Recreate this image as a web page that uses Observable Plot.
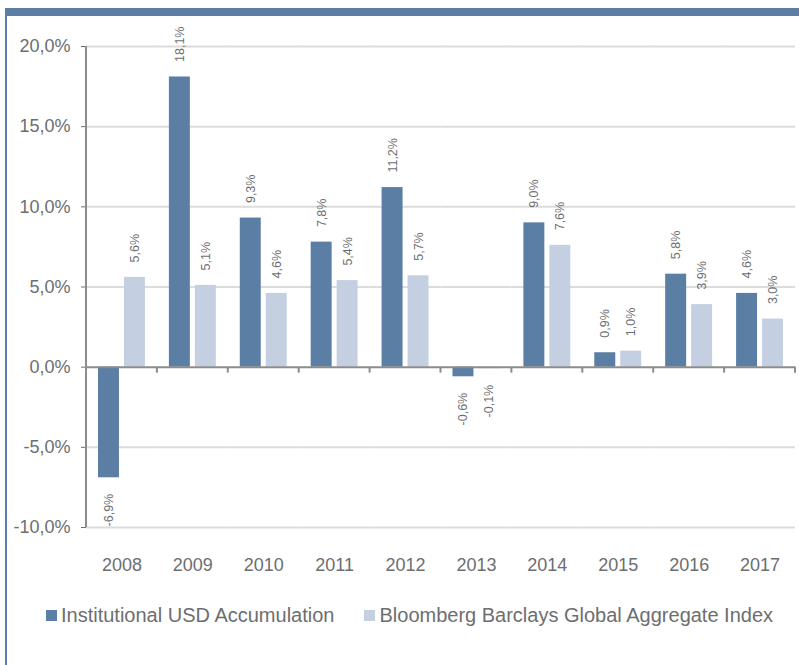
<!DOCTYPE html>
<html><head><meta charset="utf-8">
<script src="https://cdn.jsdelivr.net/npm/d3@7"></script>
<script src="https://cdn.jsdelivr.net/npm/@observablehq/plot@0.6"></script>
<style>
body{margin:0;background:#fff;font-family:"Liberation Sans",Arial,sans-serif;}
#wrap{position:relative;width:799px;height:665px;overflow:hidden;background:#fff;}
#topbar{position:absolute;left:5px;top:8px;width:794px;height:8px;background:#5b7fa4;}
#leftbar{position:absolute;left:5px;top:8px;width:2px;height:657px;background:#5b7fa4;}
#chart{position:absolute;left:0;top:0;}
#legend{position:absolute;top:604px;left:46px;display:flex;align-items:center;font-size:20px;line-height:22px;color:#6d6e71;white-space:nowrap;}
.item{display:flex;align-items:center;margin-right:30px;}
.sw{width:11px;height:11px;margin-right:4px;}
</style></head>
<body>
<div id="wrap">
  <div id="topbar"></div>
  <div id="leftbar"></div>
  <div id="chart"></div>
  <div id="legend"></div>
</div>
<script>
const years = ["2008","2009","2010","2011","2012","2013","2014","2015","2016","2017"];
const fundReturns = [-6.9, 18.1, 9.3, 7.8, 11.2, -0.6, 9.0, 0.9, 5.8, 4.6];
const indexReturns = [5.6, 5.1, 4.6, 5.4, 5.7, -0.1, 7.6, 1.0, 3.9, 3.0];
const seriesNames = ["Institutional USD Accumulation", "Bloomberg Barclays Global Aggregate Index"];
const seriesColors = ["#5b7fa4", "#c4d0e2"];
const yTicks = [-10, -5, 0, 5, 10, 15, 20];

const rows = years.flatMap((yr, i) => [
  {year: yr, series: seriesNames[0], value: fundReturns[i]},
  {year: yr, series: seriesNames[1], value: indexReturns[i]}
]);
const fmt = v => v.toFixed(1).replace(".", ",") + "%";
const textColor = "#6d6e71";

const plot = Plot.plot({
  width: 799, height: 580,
  marginLeft: 86, marginRight: 4, marginTop: 46, marginBottom: 53,
  style: {fontFamily: "'Liberation Sans', Arial, sans-serif", fontSize: "18px", color: textColor, background: "transparent", overflow: "visible"},
  facet: {data: rows, x: "year", marginLeft: 0, marginRight: 0, marginTop: 0, marginBottom: 0},
  fx: {domain: years, padding: 0, round: false, axis: "bottom", tickSize: 0, tickPadding: 31, label: null},
  x: {domain: seriesNames, paddingInner: 5/26, paddingOuter: 6/13, round: false, axis: null},
  y: {domain: [-10, 20], ticks: yTicks, tickSize: 5, tickPadding: 11, tickFormat: fmt, label: null},
  color: {domain: seriesNames, range: seriesColors},
  marks: [
    Plot.ruleY(yTicks.filter(t => t !== 0), {stroke: "#dcdcdc", strokeWidth: 2}),
    Plot.barY(rows, {x: "series", y: "value", fill: "series"}),
    Plot.ruleY([0], {stroke: "#8c8c8c", strokeWidth: 2}),
    Plot.text(rows, {filter: d => d.value >= 0, x: "series", y: "value", text: d => fmt(d.value), rotate: -90, textAnchor: "start", dy: -15, fontSize: 12.5, fill: textColor}),
    Plot.text(rows, {filter: d => d.value < 0, x: "series", y: "value", text: d => fmt(d.value), rotate: -90, textAnchor: "end", dy: 16, fontSize: 12.5, fill: textColor})
  ]
});
document.getElementById("chart").appendChild(plot);

// axis line and category boundary ticks, positioned with the plot's own scales
const fxS = plot.scale("fx"), yS = plot.scale("y");
const svg = d3.select(plot);
const g = svg.append("g").attr("stroke", "#8c8c8c").attr("stroke-width", 2);
const xLeft = fxS.apply(years[0]);
g.append("line").attr("x1", xLeft).attr("x2", xLeft).attr("y1", yS.apply(20)).attr("y2", yS.apply(-10));
const y0 = yS.apply(0);
years.forEach(yr => {
  const xr = fxS.apply(yr) + fxS.bandwidth;
  g.append("line").attr("x1", xr).attr("x2", xr).attr("y1", y0).attr("y2", y0 + 6);
});

const legend = d3.select("#legend");
seriesNames.forEach((s, i) => {
  const it = legend.append("div").attr("class", "item");
  it.append("div").attr("class", "sw").style("background", seriesColors[i]);
  it.append("span").text(s);
});
</script>
</body></html>
